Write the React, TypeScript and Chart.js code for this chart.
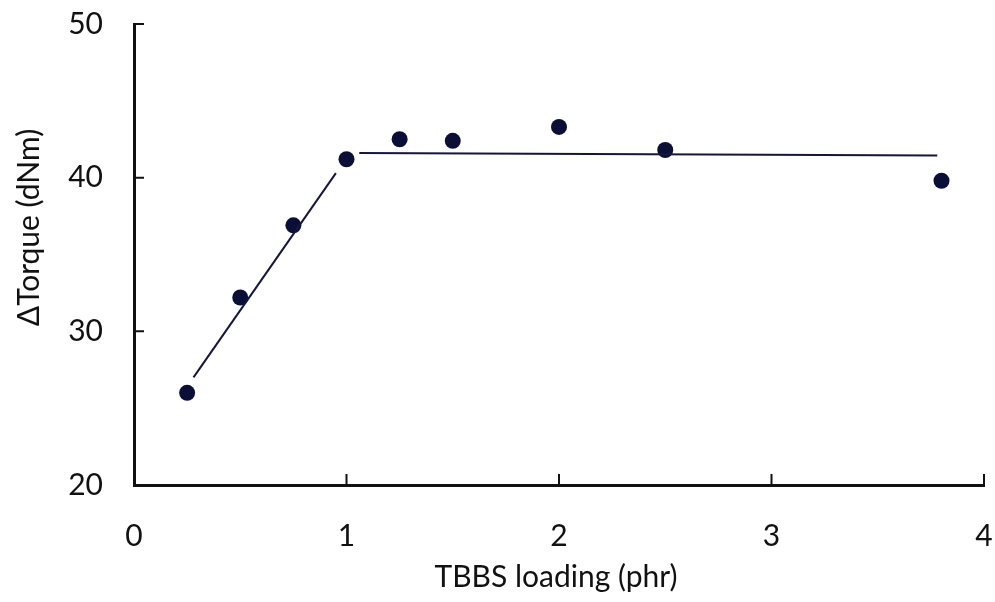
import React, { useEffect, useRef } from "react";
import { Chart, registerables } from "chart.js";

Chart.register(...registerables);

// Measured torque rise versus accelerator loading
const loading = [0.25, 0.5, 0.75, 1.0, 1.25, 1.5, 2.0, 2.5, 3.8];
const torque = [26.0, 32.2, 36.9, 41.2, 42.5, 42.4, 43.3, 41.8, 39.8];

// Two straight trend segments: the initial rise and the plateau
const riseX = [0.28, 0.95];
const riseY = [27.0, 40.3];
const plateauX = [1.06, 3.78];
const plateauY = [41.6, 41.45];

const xTicks = [0, 1, 2, 3, 4];
const yTicks = [20, 30, 40, 50];
const xTitle = "TBBS loading (phr)";
const yTitle = "ΔTorque (dNm)";

const INK = "#111111";
const MARK = "#0b0f36";
const FONT = "Lato";

const toPoints = (xs: number[], ys: number[]) => xs.map((x, i) => ({ x, y: ys[i] }));

// Inward tick marks and axis titles
const axisDecor = {
  id: "axisDecor",
  afterDraw(chart: any) {
    const { ctx, chartArea: area } = chart;
    const xs = chart.scales.x;
    const ys = chart.scales.y;
    ctx.save();
    ctx.strokeStyle = INK;
    ctx.lineWidth = 2;
    ctx.beginPath();
    for (const t of xTicks) {
      const px = xs.getPixelForValue(t);
      ctx.moveTo(px, area.bottom);
      ctx.lineTo(px, area.bottom - 11);
    }
    for (const t of yTicks) {
      const py = ys.getPixelForValue(t);
      ctx.moveTo(area.left, py);
      ctx.lineTo(area.left + 10, py);
    }
    ctx.stroke();

    ctx.fillStyle = INK;
    ctx.font = `30px ${FONT}`;
    ctx.textAlign = "center";
    ctx.textBaseline = "alphabetic";
    ctx.fillText(xTitle, (area.left + area.right) / 2 - 3, area.bottom + 102);

    ctx.translate(29, (area.top + area.bottom) / 2 - 27);
    ctx.rotate(-Math.PI / 2);
    ctx.textBaseline = "middle";
    ctx.fillText(yTitle, 0, 0);
    ctx.restore();
  },
};

// Label offset comes from an invisible tick mark so that it does not
// widen the scale's edge padding.
const hiddenTicks = (len: number) => ({
  display: true,
  drawOnChartArea: false,
  drawTicks: true,
  tickLength: len,
  tickColor: "rgba(0,0,0,0)",
});

export default function App() {
  const canvasRef = useRef<HTMLCanvasElement | null>(null);

  useEffect(() => {
    const canvas = canvasRef.current;
    if (!canvas) return;
    const chart = new Chart(canvas, {
      type: "scatter",
      data: {
        datasets: [
          {
            label: "rise",
            data: toPoints(riseX, riseY),
            showLine: true,
            borderColor: "#16163a",
            borderWidth: 2,
            pointRadius: 0,
          },
          {
            label: "plateau",
            data: toPoints(plateauX, plateauY),
            showLine: true,
            borderColor: "#16163a",
            borderWidth: 2,
            pointRadius: 0,
          },
          {
            label: "ΔTorque",
            data: toPoints(loading, torque),
            showLine: false,
            pointRadius: 8,
            pointBackgroundColor: MARK,
            pointBorderColor: MARK,
            pointBorderWidth: 0,
          },
        ],
      },
      options: {
        responsive: false,
        animation: false,
        layout: { autoPadding: false, padding: { top: 24, right: 11, left: 0, bottom: 0 } },
        plugins: {
          legend: { display: false },
          tooltip: { enabled: false },
        },
        scales: {
          x: {
            type: "linear",
            min: 0,
            max: 4,
            afterBuildTicks: (scale: any) => {
              scale.ticks = xTicks.map((v) => ({ value: v }));
            },
            afterFit: (scale: any) => {
              scale.height = 117;
            },
            grid: hiddenTicks(33),
            border: { display: true, color: INK, width: 3 },
            ticks: {
              color: INK,
              padding: 0,
              font: { family: FONT, size: 30 },
              maxRotation: 0,
            },
          },
          y: {
            type: "linear",
            min: 20,
            max: 50,
            afterBuildTicks: (scale: any) => {
              scale.ticks = yTicks.map((v) => ({ value: v }));
            },
            afterFit: (scale: any) => {
              scale.width = 134;
            },
            grid: hiddenTicks(31),
            border: { display: true, color: INK, width: 3 },
            ticks: {
              color: INK,
              padding: 0,
              font: { family: FONT, size: 30 },
            },
          },
        },
      },
      plugins: [axisDecor],
    });
    return () => chart.destroy();
  }, []);

  return (
    <div style={{ position: "fixed", left: 0, top: 0, width: 995, height: 602, background: "#ffffff" }}>
      <canvas ref={canvasRef} width={995} height={602} style={{ display: "block" }} />
    </div>
  );
}
